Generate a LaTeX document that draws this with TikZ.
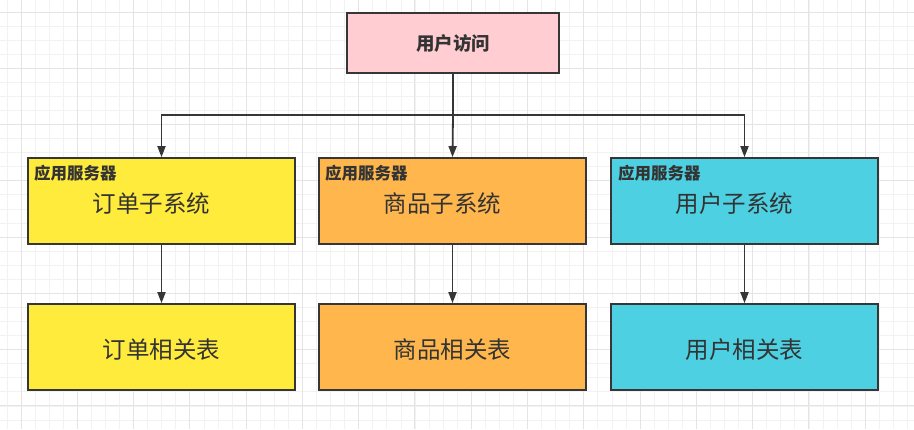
\documentclass[tikz,border=0pt]{standalone}
\usepackage{fontspec}
\newfontfamily\cjk{Noto Sans CJK SC}
\usetikzlibrary{arrows.meta}
\definecolor{gridminor}{HTML}{F2F2F2}
\definecolor{gridmajor}{HTML}{E4E4E4}
\definecolor{edge}{HTML}{363636}
\definecolor{txt}{HTML}{333333}
\definecolor{pinkfill}{HTML}{FFCDD2}
\definecolor{yellowfill}{HTML}{FFEB3B}
\definecolor{orangefill}{HTML}{FFB74D}
\definecolor{cyanfill}{HTML}{4DD0E1}
\tikzset{
  box/.style={draw=edge, line width=1.7pt, rectangle, minimum width=267pt, minimum height=86pt, inner sep=0pt},
  maintext/.style={inner sep=0pt, text=txt, font=\cjk\fontsize{23.5}{27}\selectfont},
  topbox/.style={draw=edge, line width=1.7pt, rectangle, minimum width=212pt, minimum height=60pt, inner sep=0pt, text=txt, font=\cjk\bfseries\fontsize{18.5}{22}\selectfont},
  tag/.style={anchor=west, inner sep=0pt, text=txt, font=\cjk\bfseries\fontsize{16.5}{19}\selectfont},
  conn/.style={draw=edge, line width=1.8pt},
  arr/.style={conn, -{Triangle[length=11pt, width=8pt]}},
  minorline/.style={draw=gridminor, line width=0.9pt},
  majorline/.style={draw=gridmajor, line width=1pt}
}
\begin{document}
\begin{tikzpicture}[x=1pt, y=-1pt]
\useasboundingbox (0,0) rectangle (914,429);
\fill[white] (0,0) rectangle (914,429);
% grid
\foreach \i in {0,...,64} { \draw[minorline] ({7+14.07*\i},0) -- ({7+14.07*\i},429); }
\foreach \i in {0,...,30} { \draw[minorline] (0,{12+14.07*\i}) -- (914,{12+14.07*\i}); }
\foreach \i in {0,...,16} { \draw[majorline] ({21+56.28*\i},0) -- ({21+56.28*\i},429); }
\foreach \i in {0,...,7} { \draw[majorline] (0,{12+56.28*\i}) -- (914,{12+56.28*\i}); }
% nodes
\node[topbox, fill=pinkfill] (top) at (453,43) {用户访问};
\node[box, fill=yellowfill] (s1) at (161.5,201) {};
\node[box, fill=orangefill] (s2) at (452.5,201) {};
\node[box, fill=cyanfill] (s3) at (744.5,201) {};
\node[box, fill=yellowfill] (t1) at (161.5,347) {};
\node[box, fill=orangefill] (t2) at (452.5,347) {};
\node[box, fill=cyanfill] (t3) at (744.5,347) {};
\node[maintext] (m1) at (151.5,204) {订单子系统};
\node[maintext] (m2) at (442.5,204) {商品子系统};
\node[maintext] (m3) at (734.5,204) {用户子系统};
\node[maintext] (n1) at (161.5,349.5) {订单相关表};
\node[maintext] (n2) at (452.5,349.5) {商品相关表};
\node[maintext] (n3) at (744.5,349.5) {用户相关表};
\node[tag] (l1) at (34,173.5) {应用服务器};
\node[tag] (l2) at (325,173.5) {应用服务器};
\node[tag] (l3) at (618,173.5) {应用服务器};
% connectors
\coordinate (j) at (453,115);
\draw[conn] (top.south) -- (j);
\draw[arr] (j) -| (s1.north);
\draw[arr] (j) -| (s3.north);
\draw[arr] (j) -- (s2.north);
\draw[arr] (s1.south) -- (t1.north);
\draw[arr] (s2.south) -- (t2.north);
\draw[arr] (s3.south) -- (t3.north);
\end{tikzpicture}
\end{document}
